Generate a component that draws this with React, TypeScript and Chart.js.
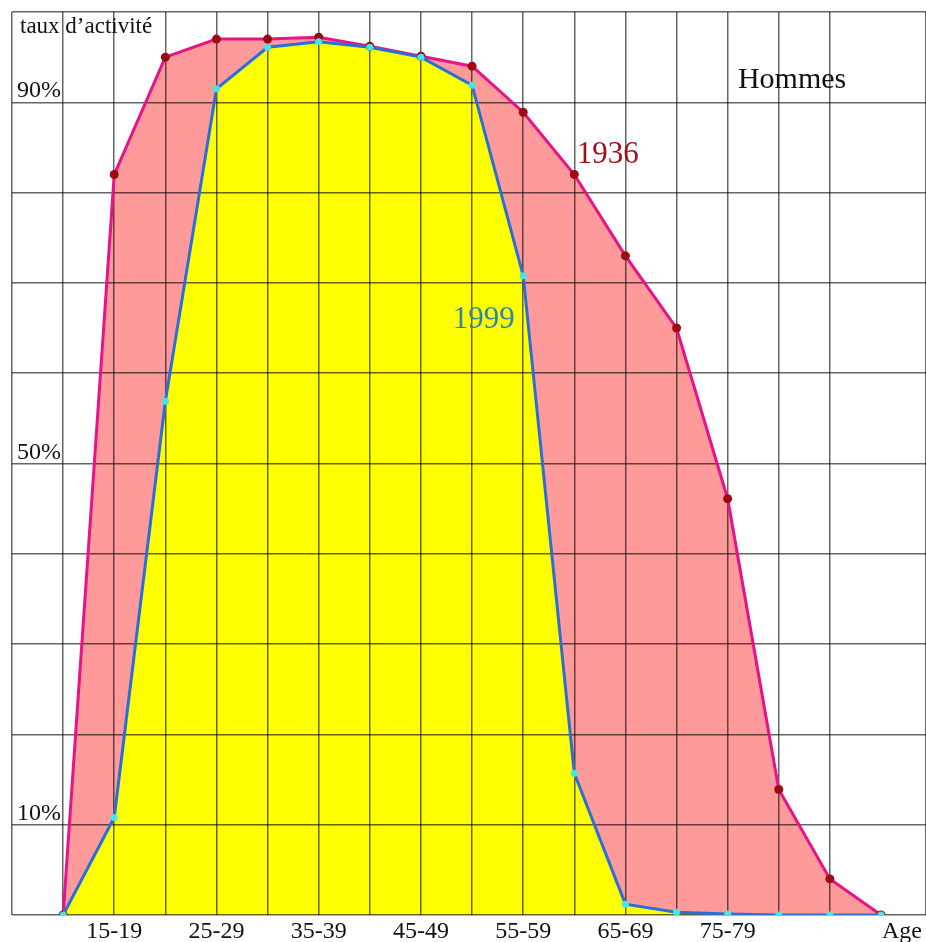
import React, { useEffect, useRef } from 'react';
import { Chart, registerables } from 'chart.js';

Chart.register(...registerables);

// Age group index (0 = start, 1 = 15-19, ..., 16 = end)
const ageIndex = [0, 1, 2, 3, 4, 5, 6, 7, 8, 9, 10, 11, 12, 13, 14, 15, 16];
// Taux d'activité des hommes (%)
const rate1936 = [0, 82.0, 95.0, 97.0, 97.0, 97.2, 96.2, 95.1, 94.0, 88.9, 82.0, 73.0, 65.0, 46.1, 13.9, 4.0, 0];
const rate1999 = [0, 10.8, 56.9, 91.5, 96.1, 96.7, 96.1, 95.0, 91.9, 70.8, 15.7, 1.2, 0.3, 0.1, 0, 0, 0];

const xTickPositions = [1, 3, 5, 7, 9, 11, 13];
const xTickLabels = ['15-19', '25-29', '35-39', '45-49', '55-59', '65-69', '75-79'];
const yTickValues = [10, 50, 90];
const yTickLabels = ['10%', '50%', '90%'];

const axisTitleX = 'Age';
const axisTitleY = 'taux d\u2019activité';
const panelTitle = 'Hommes';
const seriesNames = ['1936', '1999'];

const SERIF = '"Liberation Serif", "Times New Roman", serif';

const textPlugin = {
  id: 'textLabels',
  afterDraw(chart: any) {
    const { ctx, scales } = chart;
    const x = scales.x;
    const y = scales.y;
    ctx.save();
    ctx.textBaseline = 'alphabetic';
    ctx.font = `24px ${SERIF}`;
    ctx.fillStyle = '#111';
    ctx.textAlign = 'left';
    yTickValues.forEach((v, i) => {
      ctx.fillText(yTickLabels[i], x.left + 5, y.getPixelForValue(v) - 5);
    });
    ctx.textAlign = 'center';
    xTickPositions.forEach((v, i) => {
      ctx.fillText(xTickLabels[i], x.getPixelForValue(v), y.bottom + 23);
    });
    ctx.textAlign = 'left';
    ctx.fillText(axisTitleX, x.getPixelForValue(16) + 1, y.bottom + 23);
    ctx.font = `23px ${SERIF}`;
    ctx.fillText(axisTitleY, x.left + 8, y.top + 21);
    ctx.font = `30px ${SERIF}`;
    ctx.fillStyle = '#111';
    ctx.fillText(panelTitle, x.getPixelForValue(13.2), y.getPixelForValue(91.6));
    ctx.font = `31px ${SERIF}`;
    ctx.fillStyle = '#a3101c';
    ctx.fillText(seriesNames[0], x.getPixelForValue(10.05), y.getPixelForValue(83.3));
    ctx.fillStyle = '#2f86a8';
    ctx.fillText(seriesNames[1], x.getPixelForValue(7.62), y.getPixelForValue(65.0));
    ctx.restore();
  },
};

export default function App() {
  const canvasRef = useRef<HTMLCanvasElement | null>(null);

  useEffect(() => {
    const canvas = canvasRef.current;
    if (!canvas) return;
    const chart = new Chart(canvas, {
      type: 'line',
      data: {
        datasets: [
          {
            label: seriesNames[1],
            data: ageIndex.map((a, i) => ({ x: a, y: rate1999[i] })),
            borderColor: '#2a6fd8',
            borderWidth: 3,
            backgroundColor: '#ffff00',
            fill: 'origin',
            pointRadius: 3.5,
            pointBackgroundColor: '#44e6e6',
            pointBorderColor: '#44e6e6',
            pointBorderWidth: 0,
            tension: 0,
          },
          {
            label: seriesNames[0],
            data: ageIndex.map((a, i) => ({ x: a, y: rate1936[i] })),
            borderColor: '#e8128a',
            borderWidth: 3,
            backgroundColor: '#ff9a9a',
            fill: 'origin',
            pointRadius: 4.5,
            pointBackgroundColor: '#9c0a12',
            pointBorderColor: '#9c0a12',
            pointBorderWidth: 0,
            tension: 0,
          },
        ],
      },
      options: {
        animation: false,
        responsive: false,
        maintainAspectRatio: false,
        layout: { autoPadding: false, padding: { left: 12, top: 12, right: 0, bottom: 27 } },
        plugins: {
          legend: { display: false },
          tooltip: { enabled: false },
          filler: { drawTime: 'beforeDraw' },
        },
        scales: {
          x: {
            type: 'linear',
            min: -1,
            max: 16.88,
            ticks: { display: false, stepSize: 1 },
            border: { display: false },
            grid: { color: 'rgba(0,0,0,0.6)', lineWidth: 1.5, drawTicks: false },
          },
          y: {
            type: 'linear',
            min: 0,
            max: 100,
            ticks: { display: false, stepSize: 10 },
            border: { display: false },
            grid: { color: 'rgba(0,0,0,0.6)', lineWidth: 1.5, drawTicks: false },
          },
        },
      },
      plugins: [textPlugin],
    });
    return () => chart.destroy();
  }, []);

  return (
    <div style={{ position: 'absolute', left: 0, top: 0, width: 926, height: 942, background: '#fff' }}>
      <canvas ref={canvasRef} width={926} height={942} style={{ display: 'block' }} />
    </div>
  );
}
